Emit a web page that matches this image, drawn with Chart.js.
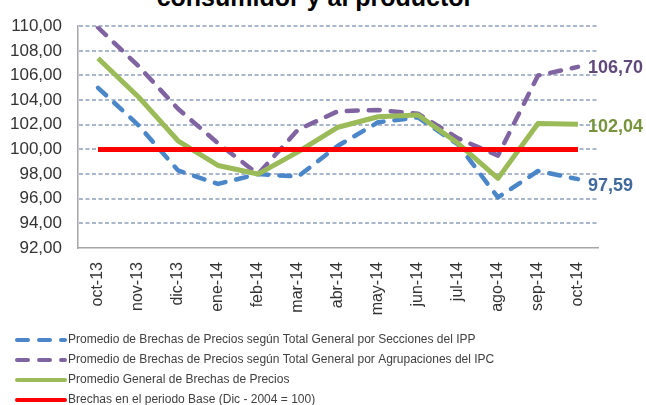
<!DOCTYPE html>
<html>
<head>
<meta charset="utf-8">
<script src="https://cdn.jsdelivr.net/npm/chart.js@4/dist/chart.umd.min.js"></script>
<style>
    html, body { margin: 0; padding: 0; background: #ffffff; overflow: hidden; }
    #wrap { position: relative; width: 646px; height: 405px; }
    #title {
        position: absolute; left: 0; top: -15px; width: 630px;
        text-align: center; font: bold 25px "Liberation Sans", Arial, sans-serif;
        line-height: 25px; color: #000000; white-space: nowrap;
    }
    canvas { position: absolute; left: 0; top: 0; }
</style>
</head>
<body>
<div id="wrap">
    <div id="title">consumidor y al productor</div>
    <canvas id="chart" width="646" height="405"></canvas>
</div>
<script>
// categories (months)
const months = ["oct-13", "nov-13", "dic-13", "ene-14", "feb-14", "mar-14", "abr-14",
    "may-14", "jun-14", "jul-14", "ago-14", "sep-14", "oct-14"];

// series values
const ippValues = [105.0, 102.0, 98.3, 97.2, 98.0, 97.8, 100.3, 102.2, 102.6, 100.4, 96.1, 98.25, 97.59];
const ipcValues = [109.9, 106.8, 103.3, 100.5, 98.0, 101.6, 103.1, 103.2, 102.9, 100.9, 99.5, 106.0, 106.70];
const generalValues = [107.4, 104.3, 100.7, 98.7, 98.0, 99.8, 101.8, 102.65, 102.8, 100.5, 97.65, 102.1, 102.04];
const baseValues = [100, 100, 100, 100, 100, 100, 100, 100, 100, 100, 100, 100, 100];

const seriesNames = [
    "Promedio de Brechas de Precios según Total General por Secciones del IPP",
    "Promedio de Brechas de Precios según Total General por Agrupaciones del IPC",
    "Promedio General de Brechas de Precios",
    "Brechas en el periodo Base (Dic - 2004 = 100)",
];

// y axis range
const yMin = 92, yMax = 110, yStep = 2;

const FONT = "'Liberation Sans', Arial, sans-serif";

const fmt = (v) => v.toFixed(2).replace(".", ",");

// dashed horizontal grid, end-of-line value labels, bottom legend (one row per series)
const extrasPlugin = {
    id: "extras",
    beforeDatasetsDraw(chart) {
        const ctx = chart.ctx;
        const y = chart.scales.y;
        const { left, right } = chart.chartArea;
        ctx.save();
        ctx.strokeStyle = "#a9b6cc";
        ctx.lineWidth = 2;
        ctx.setLineDash([4, 2.5]);
        y.ticks.forEach((t) => {
            if (t.value === yMin) return;
            const py = Math.round(y.getPixelForValue(t.value));
            ctx.beginPath();
            ctx.moveTo(left + 1, py);
            ctx.lineTo(right, py);
            ctx.stroke();
        });
        ctx.restore();
    },
    afterDatasetsDraw(chart) {
        const ctx = chart.ctx;
        chart.data.datasets.forEach((ds, i) => {
            if (!ds.endLabelColor) return;
            const meta = chart.getDatasetMeta(i);
            const last = meta.data[meta.data.length - 1];
            const v = ds.data[ds.data.length - 1];
            ctx.save();
            ctx.font = "bold 18px " + FONT;
            ctx.fillStyle = ds.endLabelColor;
            ctx.textAlign = "left";
            ctx.textBaseline = "middle";
            ctx.fillText(fmt(v), last.x + 10, last.y + (ds.endLabelDy || 0));
            ctx.restore();
        });
    },
    afterDraw(chart) {
        const ctx = chart.ctx;
        const top = chart.chartArea.bottom + 92;
        chart.data.datasets.forEach((ds, i) => {
            const y = top + i * 20;
            ctx.save();
            ctx.strokeStyle = ds.borderColor;
            ctx.lineWidth = 4;
            ctx.lineCap = "round";
            ctx.setLineDash(ds.borderDash || []);
            ctx.beginPath();
            ctx.moveTo(17, y);
            ctx.lineTo(65, y);
            ctx.stroke();
            ctx.setLineDash([]);
            ctx.font = "12px " + FONT;
            ctx.fillStyle = "#404040";
            ctx.textBaseline = "middle";
            ctx.fillText(ds.label, 68, y);
            ctx.restore();
        });
    },
};

const ctx = document.getElementById("chart").getContext("2d");

new Chart(ctx, {
    type: "line",
    data: {
        labels: months,
        datasets: [
            {
                label: seriesNames[0],
                data: ippValues,
                borderColor: "#4a86c8",
                borderWidth: 4.5,
                borderDash: [11, 11],
                borderCapStyle: "round",
                endLabelColor: "#41699c",
                endLabelDy: 7,
                order: 3,
            },
            {
                label: seriesNames[1],
                data: ipcValues,
                borderColor: "#8064a2",
                borderWidth: 4.5,
                borderDash: [11, 11],
                borderCapStyle: "round",
                endLabelColor: "#60497a",
                endLabelDy: 1,
                order: 2,
            },
            {
                label: seriesNames[2],
                data: generalValues,
                borderColor: "#9bbb59",
                borderWidth: 5,
                endLabelColor: "#77933c",
                endLabelDy: 3,
                order: 1,
            },
            {
                label: seriesNames[3],
                data: baseValues,
                borderColor: "#ff0000",
                borderWidth: 5,
                order: 0,
            },
        ],
    },
    options: {
        responsive: false,
        animation: false,
        devicePixelRatio: 1,
        elements: {
            point: { radius: 0, hoverRadius: 0 },
            line: { tension: 0, borderJoinStyle: "round" },
        },
        layout: { padding: { top: 22, right: 48, bottom: 0, left: 0 } },
        plugins: {
            legend: { display: false },
            tooltip: { enabled: false },
            title: { display: false },
        },
        scales: {
            x: {
                offset: true,
                grid: { display: false, drawTicks: false },
                border: { display: true, color: "#a6a6a6", width: 1.5 },
                ticks: {
                    color: "#333333",
                    font: { family: FONT, size: 16 },
                    minRotation: 90,
                    maxRotation: 90,
                    padding: 14,
                    autoSkip: false,
                },
                afterFit(scale) { scale.height = 157; },
            },
            y: {
                min: yMin,
                max: yMax,
                grid: { drawTicks: false, drawOnChartArea: false },
                border: { display: true, color: "#a6a6a6", width: 1.5 },
                ticks: {
                    stepSize: yStep,
                    color: "#333333",
                    font: { family: FONT, size: 17 },
                    padding: 16,
                    callback: (v) => fmt(v),
                },
                afterFit(scale) { scale.width = 78; },
            },
        },
    },
    plugins: [extrasPlugin],
});
</script>
</body>
</html>
